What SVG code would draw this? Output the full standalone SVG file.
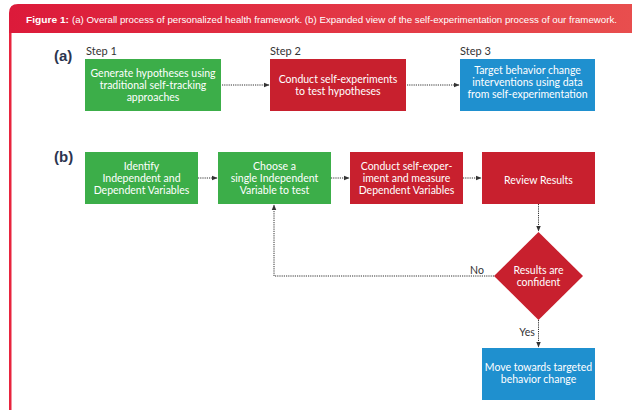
<svg xmlns="http://www.w3.org/2000/svg" width="632" height="410" viewBox="0 0 632 410">
<defs>
<linearGradient id="hdr" x1="0" y1="0" x2="1" y2="0">
<stop offset="0" stop-color="#dc1a3a"/>
<stop offset="1" stop-color="#e84e4e"/>
</linearGradient>
<marker id="ah" viewBox="0 0 10 10" refX="9" refY="5" markerWidth="6" markerHeight="6" orient="auto" markerUnits="userSpaceOnUse">
<path d="M0,1 L10,5 L0,9 Z" fill="#333"/>
</marker>
<style>
.g{fill:#3cae49}
.r{fill:#c8202e}
.b{fill:#1f90cf}
.t{font-family:Lato,"Noto Sans",sans-serif;font-size:10.5px;fill:#fff;text-anchor:middle}
.s{font-family:Lato,"Noto Sans",sans-serif;font-size:11px;fill:#333}
.lab{font-family:"Liberation Sans",Arial,sans-serif;font-size:15px;font-weight:bold;fill:#2c3550}
.c{fill:none;stroke:#333;stroke-width:1;stroke-dasharray:1.2 1}
.lbl{font-family:Lato,"Noto Sans",sans-serif;font-size:10.5px;fill:#333;text-anchor:middle}
.h{font-family:"Liberation Sans",Arial,sans-serif;font-size:9.5px;fill:#fff}
</style>
</defs>
<rect width="632" height="410" fill="#fff"/>
<g id="frame">
<path d="M9,33 V13 Q9,4 18,4 H632 V33 Z" fill="url(#hdr)"/>
<rect x="9" y="33" width="2.5" height="377" fill="#e8243e"/>
<text class="h" x="26" y="23" font-weight="bold" textLength="43" lengthAdjust="spacingAndGlyphs">Figure 1:</text>
<text class="h" x="72" y="23" textLength="545" lengthAdjust="spacingAndGlyphs">(a) Overall process of personalized health framework. (b) Expanded view of the self-experimentation process of our framework.</text>
</g>
<g id="labels">
<text class="lab" x="54" y="61">(a)</text>
<text class="lab" x="54" y="162">(b)</text>
<text class="s" x="86" y="55">Step 1</text>
<text class="s" x="270" y="55">Step 2</text>
<text class="s" x="460" y="55">Step 3</text>
</g>
<g id="connectors">
<line class="c" x1="222" y1="85" x2="269" y2="85" marker-end="url(#ah)"/>
<line class="c" x1="407" y1="85" x2="459" y2="85" marker-end="url(#ah)"/>
<line class="c" x1="198" y1="178" x2="217" y2="178" marker-end="url(#ah)"/>
<line class="c" x1="331" y1="178" x2="349" y2="178" marker-end="url(#ah)"/>
<line class="c" x1="463" y1="178" x2="481" y2="178" marker-end="url(#ah)"/>
<line class="c" x1="538.5" y1="204" x2="538.5" y2="231" marker-end="url(#ah)"/>
<polyline class="c" points="494,276 274,276 274,205" marker-end="url(#ah)"/>
<line class="c" x1="538.5" y1="320" x2="538.5" y2="347" marker-end="url(#ah)"/>
<text class="lbl" x="477" y="274">No</text>
<text class="lbl" x="527" y="336">Yes</text>
</g>
<g id="a1"><rect class="g" x="85" y="59" width="136" height="52"/>
<text class="t" x="153" y="77">Generate hypotheses using</text>
<text class="t" x="153" y="89">traditional self-tracking</text>
<text class="t" x="153" y="101">approaches</text></g>
<g id="a2"><rect class="r" x="270" y="59" width="136" height="52"/>
<text class="t" x="338" y="83">Conduct self-experiments</text>
<text class="t" x="338" y="95">to test hypotheses</text></g>
<g id="a3"><rect class="b" x="460" y="59" width="135" height="52"/>
<text class="t" x="527.5" y="74">Target behavior change</text>
<text class="t" x="527.5" y="86">interventions using data</text>
<text class="t" x="527.5" y="98">from self-experimentation</text></g>
<g id="b1"><rect class="g" x="85" y="152" width="113" height="52"/>
<text class="t" x="141.5" y="170">Identify</text>
<text class="t" x="141.5" y="182">Independent and</text>
<text class="t" x="141.5" y="194">Dependent Variables</text></g>
<g id="b2"><rect class="g" x="218" y="152" width="113" height="52"/>
<text class="t" x="274.5" y="170">Choose a</text>
<text class="t" x="274.5" y="182">single Independent</text>
<text class="t" x="274.5" y="194">Variable to test</text></g>
<g id="b3"><rect class="r" x="350" y="152" width="113" height="52"/>
<text class="t" x="406.5" y="170">Conduct self-exper-</text>
<text class="t" x="406.5" y="182">iment and measure</text>
<text class="t" x="406.5" y="194">Dependent Variables</text></g>
<g id="b4"><rect class="r" x="482" y="152" width="113" height="52"/>
<text class="t" x="538.5" y="184">Review Results</text></g>
<g id="b5"><polygon class="r" points="538.5,232 583,276 538.5,320 494,276"/>
<text class="t" x="538.5" y="274">Results are</text>
<text class="t" x="538.5" y="286">confident</text></g>
<g id="b6"><rect class="b" x="482" y="348" width="113" height="52"/>
<text class="t" x="538.5" y="371">Move towards targeted</text>
<text class="t" x="538.5" y="383">behavior change</text></g>
</svg>
